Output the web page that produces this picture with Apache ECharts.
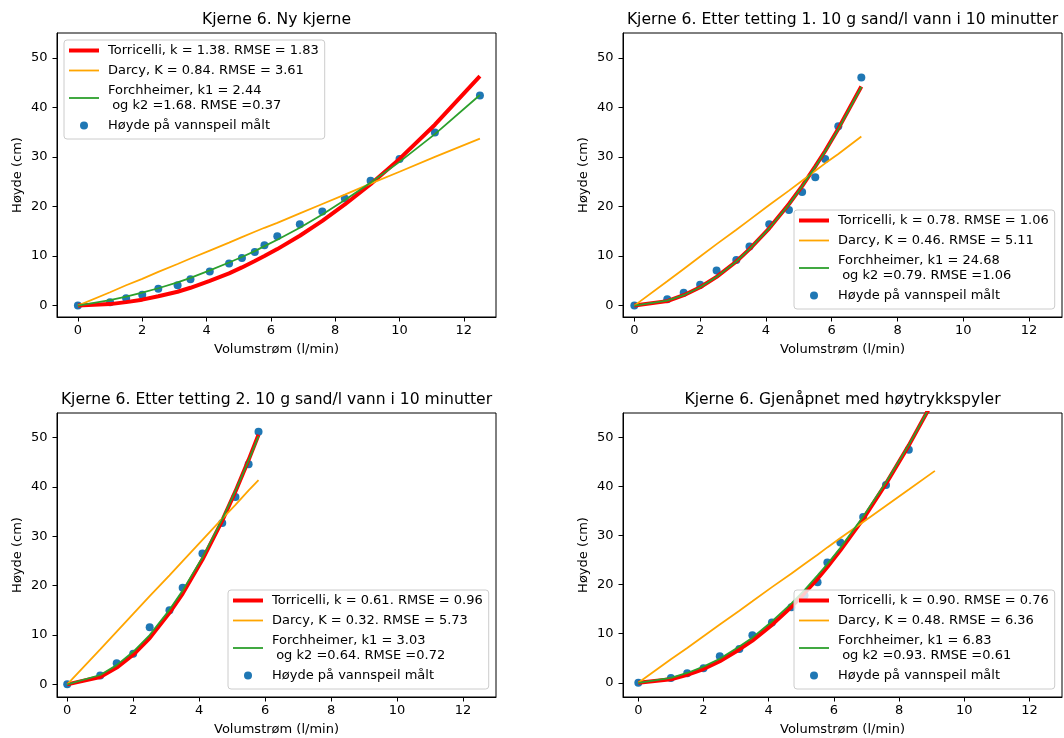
<!DOCTYPE html>
<html><head><meta charset="utf-8">
<script src="https://cdn.jsdelivr.net/npm/echarts@6/dist/echarts.min.js"></script>
<style>html,body{margin:0;padding:0;background:#fff}#c{width:1064px;height:738px}</style>
</head><body><div id="c"></div>
<script>
// ---- data ----
const titles = [
  'Kjerne 6. Ny kjerne',
  'Kjerne 6. Etter tetting 1. 10 g sand/l vann i 10 minutter',
  'Kjerne 6. Etter tetting 2. 10 g sand/l vann i 10 minutter',
  'Kjerne 6. Gjenåpnet med høytrykkspyler'
];
const xTicks = [0, 2, 4, 6, 8, 10, 12];
const yTicks = [0, 10, 20, 30, 40, 50];
const xAxisName = 'Volumstrøm (l/min)';
const yAxisName = 'Høyde (cm)';
const pointName = 'Høyde på vannspeil målt';

// Panel 1: Ny kjerne
const q1   = [0, 1, 1.5, 2, 2.5, 3.1, 3.5, 4.1, 4.7, 5.1, 5.5, 5.8, 6.2, 6.9, 7.6, 8.3, 9.1, 10, 11.1, 12.5];
const h1   = [0, 0.7, 1.5, 2.2, 3.4, 4.1, 5.3, 6.9, 8.5, 9.6, 10.8, 12.2, 14.0, 16.4, 19.0, 21.6, 25.2, 29.6, 34.9, 42.4];
const tor1 = [0, 0.3, 0.7, 1.2, 1.9, 2.8, 3.6, 5.0, 6.5, 7.7, 9.0, 10.0, 11.4, 14.1, 17.1, 20.4, 24.5, 29.6, 36.5, 46.3];
const dar1 = [0, 2.7, 4.1, 5.4, 6.8, 8.4, 9.5, 11.1, 12.7, 13.8, 14.9, 15.7, 16.7, 18.6, 20.5, 22.4, 24.6, 27.0, 30.0, 33.7];
const for1 = [0, 1.1, 1.8, 2.6, 3.5, 4.7, 5.6, 7.1, 8.7, 9.8, 11.0, 12.0, 13.3, 15.7, 18.4, 21.3, 24.8, 29.0, 34.6, 42.5];
const names1 = ['Torricelli, k = 1.38. RMSE = 1.83', 'Darcy, K = 0.84. RMSE = 3.61', 'Forchheimer, k1 = 2.44\n og k2 =1.68. RMSE =0.37'];

// Panel 2: Etter tetting 1
const q2   = [0, 1, 1.5, 2, 2.5, 3.1, 3.5, 4.1, 4.7, 5.1, 5.5, 5.8, 6.2, 6.9];
const h2   = [0, 1.3, 2.6, 4.2, 7.1, 9.2, 11.9, 16.4, 19.3, 22.9, 25.9, 29.6, 36.2, 46.0];
const tor2 = [0, 0.9, 2.1, 3.7, 5.8, 8.9, 11.4, 15.6, 20.5, 24.1, 28.1, 31.2, 35.7, 44.2];
const dar2 = [0, 4.9, 7.4, 9.9, 12.4, 15.3, 17.3, 20.3, 23.2, 25.2, 27.2, 28.7, 30.6, 34.1];
const for2 = [0, 1.0, 2.1, 3.7, 5.8, 8.9, 11.4, 15.6, 20.4, 24.1, 28.0, 31.1, 35.6, 44.1];
const names2 = ['Torricelli, k = 0.78. RMSE = 1.06', 'Darcy, K = 0.46. RMSE = 5.11', 'Forchheimer, k1 = 24.68\n og k2 =0.79. RMSE =1.06'];

// Panel 3: Etter tetting 2
const q3   = [0, 1, 1.5, 2, 2.5, 3.1, 3.5, 4.1, 4.7, 5.1, 5.5, 5.8];
const h3   = [0, 1.8, 4.3, 6.2, 11.6, 15.0, 19.6, 26.5, 32.7, 38.0, 44.6, 51.2];
const tor3 = [0, 1.5, 3.4, 6.0, 9.4, 14.5, 18.4, 25.3, 33.2, 39.1, 45.5, 50.6];
const dar3 = [0, 7.1, 10.7, 14.3, 17.9, 22.1, 25.0, 29.3, 33.6, 36.4, 39.3, 41.4];
const for3 = [0, 1.9, 3.9, 6.6, 10.0, 15.1, 19.0, 25.7, 33.5, 39.2, 45.4, 50.3];
const names3 = ['Torricelli, k = 0.61. RMSE = 0.96', 'Darcy, K = 0.32. RMSE = 5.73', 'Forchheimer, k1 = 3.03\n og k2 =0.64. RMSE =0.72'];

// Panel 4: Gjenåpnet med høytrykkspyler
const q4   = [0, 1, 1.5, 2, 2.5, 3.1, 3.5, 4.1, 4.7, 5.1, 5.5, 5.8, 6.2, 6.9, 7.6, 8.3, 9.1];
const h4   = [0, 0.95, 1.96, 2.97, 5.4, 6.9, 9.7, 12.3, 15.4, 17.8, 20.5, 24.5, 28.6, 33.8, 40.3, 47.5, 59.0];
const tor4 = [0, 0.7, 1.6, 2.8, 4.4, 6.8, 8.6, 11.8, 15.5, 18.3, 21.2, 23.6, 27.0, 33.4, 40.6, 48.4, 58.1];
const dar4 = [0, 4.8, 7.1, 9.5, 11.9, 14.7, 16.6, 19.5, 22.3, 24.2, 26.1, 27.6, 29.5, 32.8, 36.1, 39.4, 43.2];
const for4 = [0, 1.0, 2.0, 3.3, 4.9, 7.4, 9.2, 12.5, 16.2, 18.9, 21.9, 24.2, 27.5, 33.9, 40.9, 48.5, 58.1];
const names4 = ['Torricelli, k = 0.90. RMSE = 0.76', 'Darcy, K = 0.48. RMSE = 6.36', 'Forchheimer, k1 = 6.83\n og k2 =0.93. RMSE =0.61'];

// ---- layout / style ----
const FONT = 'DejaVu Sans';
const panels = [
  {q: q1, h: h1, tor: tor1, dar: dar1, frc: for1, names: names1, grid: {left: 57, top: 33}, xmin: -0.65, ymin: -2.3, legend: {left: 64, top: 40}, titleTop: 12},
  {q: q2, h: h2, tor: tor2, dar: dar2, frc: for2, names: names2, grid: {left: 623, top: 33}, xmin: -0.345, ymin: -2.3, legend: {left: 794, top: 210}, titleTop: 12},
  {q: q3, h: h3, tor: tor3, dar: dar3, frc: for3, names: names3, grid: {left: 57, top: 413}, xmin: -0.31, ymin: -2.56, legend: {left: 228, top: 590}, titleTop: 392},
  {q: q4, h: h4, tor: tor4, dar: dar4, frc: for4, names: names4, grid: {left: 623, top: 413}, xmin: -0.47, ymin: -2.9, legend: {left: 794, top: 590}, titleTop: 392}
];
const GW = 439, GH = 284;
const zip = (a, b) => a.map((v, i) => [v, b[i]]);

const option = {
  animation: false,
  backgroundColor: '#fff',
  textStyle: {fontFamily: FONT},
  title: [], grid: [], xAxis: [], yAxis: [], legend: [], series: []
};

panels.forEach((p, i) => {
  option.title.push({
    text: titles[i], left: p.grid.left + GW / 2, top: p.titleTop, textAlign: 'center', padding: 0,
    textStyle: {fontFamily: FONT, fontSize: 15.6, fontWeight: 'normal', color: '#000'}
  });
  option.grid.push({
    left: p.grid.left, top: p.grid.top, width: GW, height: GH,
    show: true, borderColor: '#000', borderWidth: 1, backgroundColor: 'transparent', containLabel: false
  });
  option.xAxis.push({
    type: 'value', gridIndex: i, min: p.xmin, max: 13,
    name: xAxisName, nameLocation: 'middle', nameGap: 26,
    nameTextStyle: {fontFamily: FONT, fontSize: 13, color: '#000'},
    axisLine: {show: true, onZero: false, lineStyle: {color: '#000', width: 1}},
    axisTick: {show: true, inside: false, length: 4.5, customValues: xTicks, lineStyle: {color: '#000', width: 1}},
    axisLabel: {show: true, margin: 7, customValues: xTicks, fontFamily: FONT, fontSize: 13, color: '#000'},
    splitLine: {show: false}
  });
  option.yAxis.push({
    type: 'value', gridIndex: i, min: p.ymin, max: 55,
    name: yAxisName, nameLocation: 'middle', nameGap: 33, nameRotate: 90,
    nameTextStyle: {fontFamily: FONT, fontSize: 13, color: '#000'},
    axisLine: {show: true, onZero: false, lineStyle: {color: '#000', width: 1}},
    axisTick: {show: true, inside: false, length: 4.5, customValues: yTicks, lineStyle: {color: '#000', width: 1}},
    axisLabel: {show: true, margin: 9.5, customValues: yTicks, fontFamily: FONT, fontSize: 13, color: '#000'},
    splitLine: {show: false}
  });
  const lineCommon = {type: 'line', xAxisIndex: i, yAxisIndex: i, symbol: 'none', showSymbol: false, clip: true, smooth: false};
  option.series.push(Object.assign({}, lineCommon, {name: p.names[0], data: zip(p.q, p.tor), color: '#ff0000', lineStyle: {color: '#ff0000', width: 4}}));
  option.series.push(Object.assign({}, lineCommon, {name: p.names[1], data: zip(p.q, p.dar), color: '#ffa500', lineStyle: {color: '#ffa500', width: 1.8}}));
  option.series.push(Object.assign({}, lineCommon, {name: p.names[2], data: zip(p.q, p.frc), color: '#2ca02c', lineStyle: {color: '#2ca02c', width: 1.8}}));
  option.series.push({type: 'scatter', name: pointName, xAxisIndex: i, yAxisIndex: i, data: zip(p.q, p.h),
    symbol: 'circle', symbolSize: 8, clip: true, itemStyle: {color: '#1f77b4', opacity: 1}, color: '#1f77b4'});
  const hide = {opacity: 0, color: 'rgba(0,0,0,0)', borderWidth: 0};
  option.legend.push({
    left: p.legend.left, top: p.legend.top, orient: 'vertical', selectedMode: false,
    itemWidth: 30, itemHeight: 8, itemGap: 5, padding: [3, 6, 6, 3],
    backgroundColor: 'rgba(255,255,255,0.8)', borderColor: '#cccccc', borderWidth: 1, borderRadius: 3,
    textStyle: {fontFamily: FONT, fontSize: 13, color: '#000', lineHeight: 15, padding: [0, 0, 0, 4]},
    lineStyle: {width: 'inherit'},
    data: [
      {name: p.names[0], lineStyle: {width: 4, color: '#ff0000'}, itemStyle: hide},
      {name: p.names[1], lineStyle: {width: 1.8, color: '#ffa500'}, itemStyle: hide},
      {name: p.names[2], lineStyle: {width: 1.8, color: '#2ca02c'}, itemStyle: hide},
      {name: pointName, icon: 'circle', itemStyle: {color: '#1f77b4', opacity: 1}}
    ]
  });
});

const chart = echarts.init(document.getElementById('c'), null, {renderer: 'canvas'});
chart.setOption(option);
</script>
</body></html>
